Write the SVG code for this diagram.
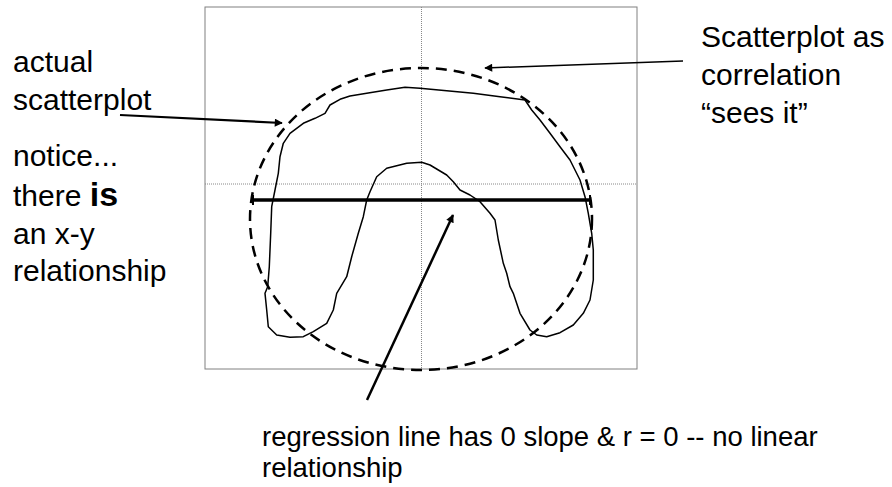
<svg xmlns="http://www.w3.org/2000/svg" width="892" height="487" viewBox="0 0 892 487">
<style>
.t{font-family:"Liberation Sans",Arial,sans-serif;fill:#000}
.big{font-size:30px}
.small{font-size:27.5px}
.grid{stroke:#888;stroke-width:1;stroke-dasharray:1,1;fill:none}
.conn{stroke:#000;fill:none}
</style>
<defs>
<marker id="ah" viewBox="0 0 10 10" refX="9" refY="5" markerWidth="10" markerHeight="8" markerUnits="userSpaceOnUse" orient="auto">
<path d="M0,0 L10,5 L0,10 z" fill="#000"/>
</marker>
</defs>
<rect width="892" height="487" fill="#fff"/>
<g id="plot">
<rect x="205" y="7" width="432" height="362" fill="none" stroke="#808080" stroke-width="1"/>
<line class="grid" x1="421.5" y1="7" x2="421.5" y2="369"/>
<line class="grid" x1="205" y1="184" x2="637" y2="184"/>
</g>
<g id="correlation-ellipse">
<ellipse cx="421" cy="219" rx="171" ry="151" fill="none" stroke="#000" stroke-width="2.5" stroke-dasharray="11,7"/>
</g>
<g id="actual-scatterplot">
<path d="M268.3,326.7 L276.7,335 L290,337.3 L303.3,336.7 L313.3,331.7 L326.7,323.3 L333.3,310 L336.7,293.3 L346.7,276.7 L351.7,256.7 L358.3,233.3 L363.3,216.7 L366.7,200 L370,191.7 L376.7,176.7 L386.7,168.3 L406.7,163.3 L421.7,162.3 L430,165 L446.7,175 L453.3,181.7 L460,190 L470,195 L480,201.7 L490,213.3 L495,220 L498.3,240 L503.3,263.3 L506.7,273.3 L510,286.7 L513.3,293.3 L520,313.3 L530,330 L536.7,335 L546.7,336.7 L560,332.7 L573.3,325 L583.3,313.3 L590,300 L593.3,280 L593.3,250 L591.7,233.3 L588.3,213.3 L585,196.7 L580,180 L570,160 L560,146.7 L550,133.3 L540,120 L531.7,110 L525,100 L500,96.7 L473.3,93.3 L446.7,90.7 L420,88.3 L405,87.3 L386.7,90 L366.7,93.3 L350,96 L340,99.3 L330,105 L325,113.3 L315,118.3 L303.3,123.3 L290,133.3 L283.3,143.3 L280,156.7 L278.3,173.3 L275,190 L271.7,206.7 L270.7,233.3 L269.3,266.7 L267.7,286.7 L265,293.3 L266.7,310 Z" fill="none" stroke="#000" stroke-width="1.5" stroke-linejoin="round"/>
</g>
<g id="regression-line">
<line x1="253" y1="200" x2="590" y2="200" stroke="#000" stroke-width="3.5"/>
<line x1="253" y1="195" x2="253" y2="205" stroke="#000" stroke-width="2"/>
<line x1="590" y1="195" x2="590" y2="205" stroke="#000" stroke-width="2"/>
</g>
<g id="label-left">
<text class="t big" x="13" y="72">actual</text>
<text class="t big" x="13" y="110">scatterplot</text>
<text class="t big" x="13" y="166">notice...</text>
<text class="t big" x="13" y="206">there <tspan font-weight="bold" font-size="34">is</tspan></text>
<text class="t big" x="13" y="244">an x-y</text>
<text class="t big" x="13" y="281">relationship</text>
</g>
<g id="label-right">
<text class="t big" x="701" y="47">Scatterplot as</text>
<text class="t big" x="701" y="85">correlation</text>
<text class="t big" x="701" y="123">“sees it”</text>
</g>
<g id="label-bottom">
<text class="t small" x="262" y="446">regression line has 0 slope &amp; r = 0 -- no linear</text>
<text class="t small" x="262" y="477">relationship</text>
</g>
<g id="connectors">
<line class="conn" x1="120" y1="115" x2="282" y2="123" stroke-width="2.2" marker-end="url(#ah)"/>
<line class="conn" x1="683" y1="61" x2="485" y2="68" stroke-width="1.5" marker-end="url(#ah)"/>
<line class="conn" x1="367" y1="400" x2="453" y2="215" stroke-width="2.5" marker-end="url(#ah)"/>
</g>
</svg>
